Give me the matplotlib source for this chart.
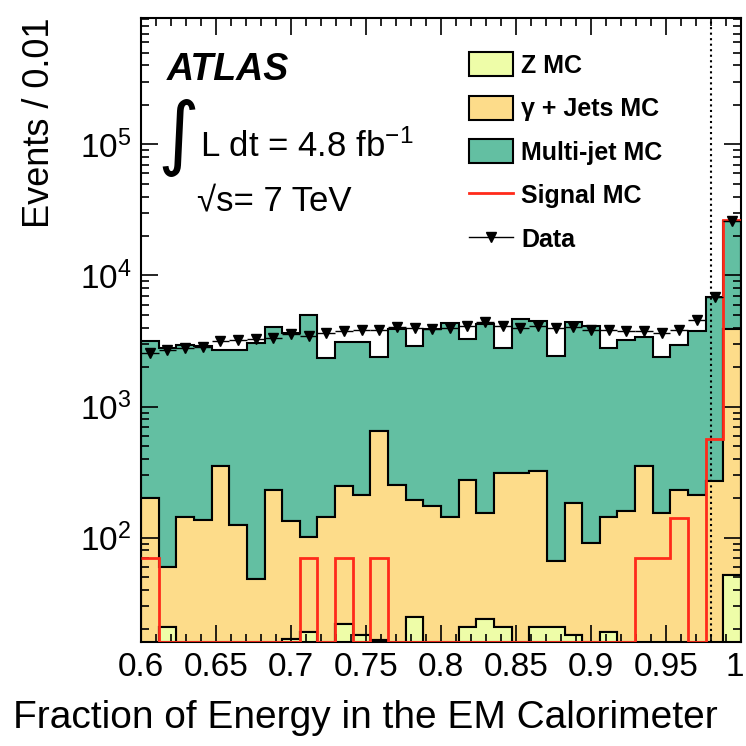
import numpy as np
import matplotlib
matplotlib.use("Agg")
import matplotlib.pyplot as plt
import matplotlib.transforms as mtransforms
from matplotlib.lines import Line2D
from matplotlib.patches import Patch
from matplotlib.ticker import FixedLocator, MultipleLocator, LogLocator, NullFormatter

plt.rcParams['font.family'] = ['Liberation Sans', 'DejaVu Sans']
plt.rcParams['mathtext.fontset'] = 'custom'
plt.rcParams['mathtext.rm'] = 'Liberation Sans'
plt.rcParams['mathtext.it'] = 'Liberation Sans:italic'
plt.rcParams['mathtext.bf'] = 'Liberation Sans:bold'

# 34 bins between 0.6 and 1.0
edges = np.linspace(0.6, 1.0, 35)
centers = 0.5 * (edges[1:] + edges[:-1])
binw = edges[1] - edges[0]

z_mc = np.array([0, 21, 0, 0, 0, 0, 0, 0, 17, 19, 0, 22, 18, 16.5, 0, 25, 0,
                 0, 21, 24, 21, 0, 21, 21, 18, 0, 19, 0, 0, 0, 0, 0, 0, 52])
gamma_mc = np.array([201, 39, 145, 137, 350, 126, 48, 232, 116, 83, 145, 224, 195, 631, 254, 170, 173,
                     145, 256, 130, 291, 312, 304, 45, 166, 91, 126, 159, 350, 154, 232, 213, 269, 3820])
multijet_mc = np.array([2970, 2760, 2805, 2745, 2370, 2555, 3010, 3830, 3520, 4850, 2205, 2855, 2885, 1745, 3665, 2685, 3700,
                        4215, 3015, 4145, 2490, 4370, 4155, 2385, 4215, 4010, 2655, 3080, 3050, 2235, 2740, 3545, 6630, 22100])
signal_mc = np.array([70, 0, 0, 0, 0, 0, 0, 0, 0, 70, 0, 70, 0, 70, 0, 0, 0,
                      0, 0, 0, 0, 0, 0, 0, 0, 0, 0, 0, 70, 70, 141, 0, 567, 26400])
data = np.array([2570, 2720, 2800, 2840, 3150, 3200, 3290, 3340, 3550, 3440, 3650, 3760, 3870, 3870, 4050, 3990, 3920,
                 3990, 4100, 4400, 4100, 3990, 4150, 3990, 4020, 3870, 3870, 3800, 3760, 3650, 3870, 4560, 6900, 26000])

xticks = [0.6, 0.65, 0.7, 0.75, 0.8, 0.85, 0.9, 0.95, 1.0]
xticklabels = ['0.6', '0.65', '0.7', '0.75', '0.8', '0.85', '0.9', '0.95', '1']

c_z = '#eefda8'
c_gamma = '#fddc8a'
c_multi = '#63bfa2'
c_sig = '#ff2a1a'
ymin, ymax = 16, 9.2e5

fig = plt.figure(figsize=(7.46, 7.46), dpi=100)
ax = fig.add_axes([141/746, 104/746, 600/746, 624/746])

ax.hist([centers] * 3, bins=edges, weights=[z_mc, gamma_mc, multijet_mc], stacked=True,
        histtype='stepfilled', color=[c_z, c_gamma, c_multi], edgecolor='black',
        linewidth=1.5, log=True, zorder=1)

sig_plot = np.where(signal_mc > 0, signal_mc, ymin)
ax.stairs(sig_plot, edges, baseline=None, color=c_sig, linewidth=2, zorder=3)

ax.axvline(0.98, color='black', linestyle=':', linewidth=1.5, zorder=4)

ax.errorbar(centers, data, xerr=binw / 2, yerr=np.sqrt(data), fmt='v', color='black',
            ms=7.5, lw=1, capsize=0, zorder=5)

ax.set_xlim(0.6, 1.0)
ax.set_ylim(ymin, ymax)
ax.xaxis.set_major_locator(FixedLocator(xticks))
ax.set_xticklabels(xticklabels)
ax.xaxis.set_minor_locator(MultipleLocator(0.01))
ax.yaxis.set_minor_locator(LogLocator(base=10, subs=np.arange(2, 10)))
ax.yaxis.set_minor_formatter(NullFormatter())
ax.tick_params(which='both', direction='in', top=True, right=True, width=1.2)
ax.tick_params(which='major', length=12, labelsize=24, pad=7)
ax.tick_params(which='minor', length=6)
for s in ax.spines.values():
    s.set_linewidth(1.5)

# last label sits right at the figure edge, nudge it left a little
last = ax.get_xticklabels()[-1]
last.set_transform(last.get_transform() + mtransforms.ScaledTranslation(-6/100, 0, fig.dpi_scale_trans))

handles = [Patch(facecolor=c_z, edgecolor='black', lw=1.5),
           Patch(facecolor=c_gamma, edgecolor='black', lw=1.5),
           Patch(facecolor=c_multi, edgecolor='black', lw=1.5),
           Line2D([], [], color=c_sig, lw=2),
           Line2D([], [], color='black', lw=1, marker='v', ms=7.5)]
labels = ['Z MC', 'γ + Jets MC', 'Multi-jet MC', 'Signal MC', 'Data']
ax.legend(handles, labels, loc='upper left', bbox_to_anchor=(0.547, 0.945), frameon=False,
          prop={'weight': 'bold', 'size': 18}, handlelength=1.76, handleheight=1.1,
          labelspacing=0.72, handletextpad=0.32, borderpad=0, borderaxespad=0)

fig.text(167/746, 1 - 70/746, 'ATLAS', fontsize=27, weight='bold', style='italic', va='center')
fig.text(178/746, 1 - 138/746, '∫', family='DejaVu Sans', fontsize=58, ha='center', va='center')
fig.text(200/746, 1 - 157/746, r'L dt = 4.8 fb$^{-1}$', fontsize=25, va='baseline')
fig.text(197/746, 1 - 210/746, '√s= 7 TeV', fontsize=25, va='baseline')

fig.text(40/746, 1 - 18/746, 'Events / 0.01', fontsize=26, rotation=90, ha='center', va='top')
fig.text(718/746, 1 - 728/746, 'Fraction of Energy in the EM Calorimeter', fontsize=28,
         ha='right', va='baseline')

fig.savefig('out.png', dpi=100)
